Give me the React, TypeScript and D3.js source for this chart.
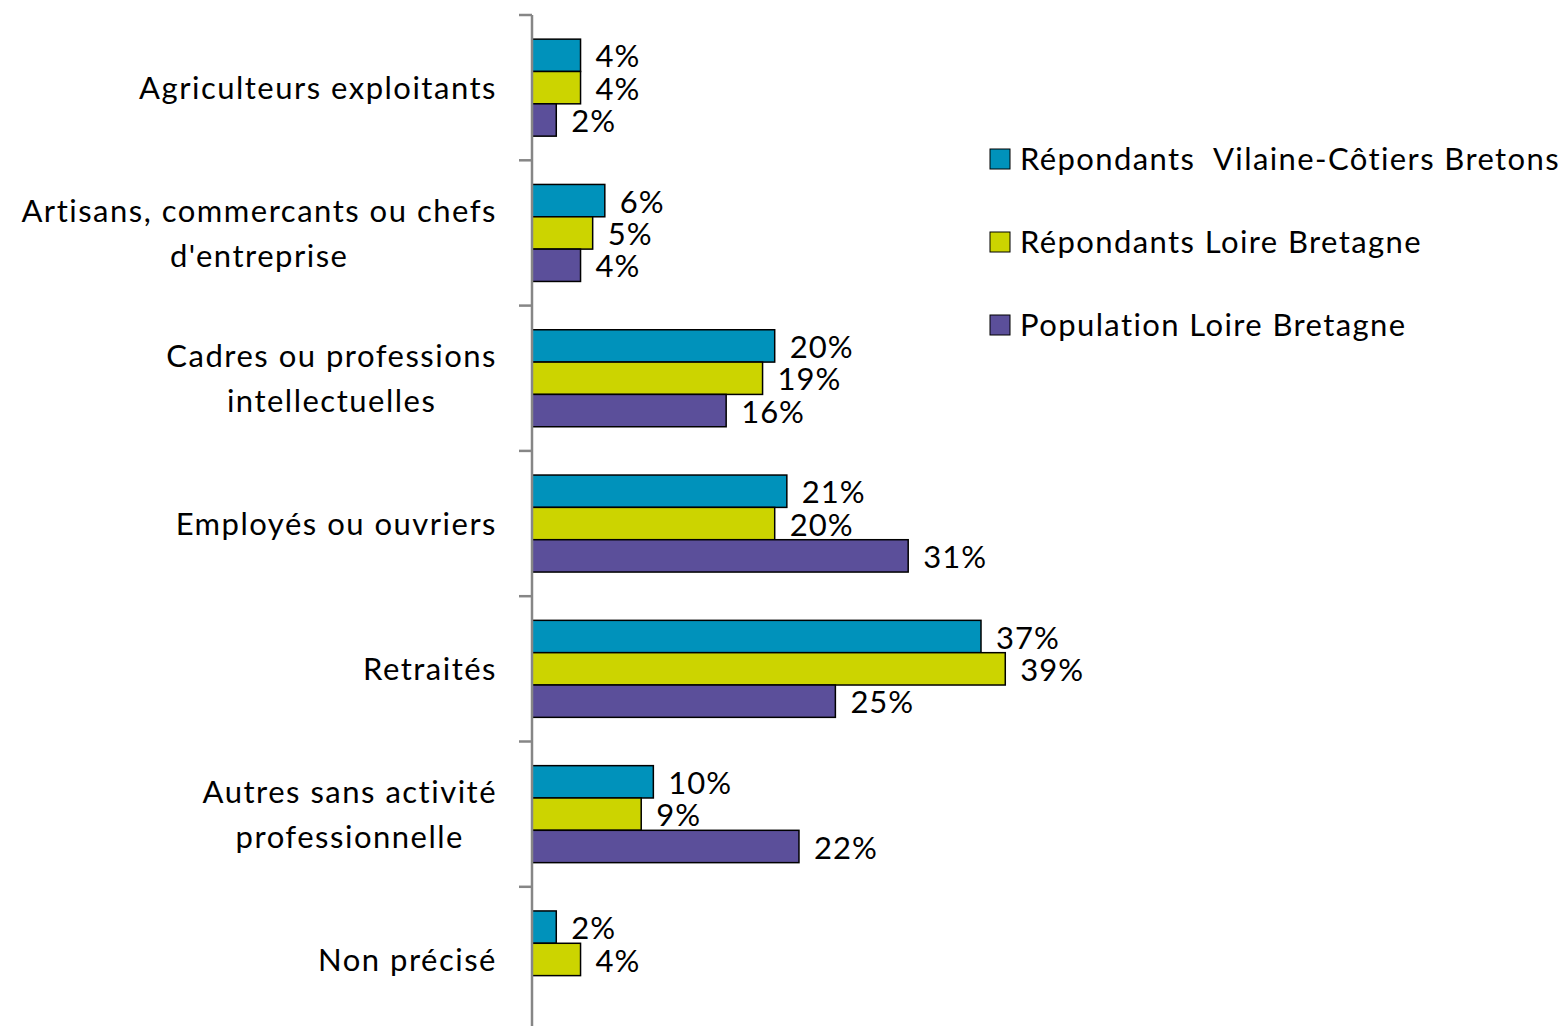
import { useRef, useEffect } from "react";
import * as d3 from "d3";

const categories = [
  ["Agriculteurs exploitants"],
  ["Artisans, commercants ou chefs", "d'entreprise"],
  ["Cadres ou professions", "intellectuelles"],
  ["Employés ou ouvriers"],
  ["Retraités"],
  ["Autres sans activité", "professionnelle"],
  ["Non précisé"],
];
const seriesNames = [
  "Répondants  Vilaine-Côtiers Bretons",
  "Répondants Loire Bretagne",
  "Population Loire Bretagne",
];
const seriesColors = ["#0092BB", "#CCD400", "#5B4F9A"];
const vilaine = [4, 6, 20, 21, 37, 10, 2];
const loire = [4, 5, 19, 20, 39, 9, 4];
const population = [2, 4, 16, 31, 25, 22, null];

const W = 1564;
const H = 1026;
const FONT = "Lato, 'Open Sans', sans-serif";

export default function App() {
  const svgRef = useRef<SVGSVGElement>(null);

  useEffect(() => {
    const svg = d3.select(svgRef.current);
    svg.selectAll("*").remove();

    const x0 = 532;
    const x = d3.scaleLinear().domain([0, 37]).range([x0, 981]);
    const y = d3
      .scaleBand<number>()
      .domain(d3.range(categories.length))
      .range([15, 15 + 145.3 * categories.length]);
    const inner = d3
      .scaleBand<number>()
      .domain([0, 1, 2])
      .range([y.bandwidth() / 2 - 48.5, y.bandwidth() / 2 + 48.5]);

    const values = [vilaine, loire, population];

    // bars + value labels
    values.forEach((vals, s) => {
      const g = svg.append("g");
      vals.forEach((v, i) => {
        if (v == null) return;
        const by = (y(i) as number) + (inner(s) as number);
        g.append("rect")
          .attr("x", x(0))
          .attr("y", by)
          .attr("width", x(v) - x(0))
          .attr("height", inner.bandwidth())
          .attr("fill", seriesColors[s])
          .attr("stroke", "#000")
          .attr("stroke-width", 1.5);
        g.append("text")
          .attr("x", x(v) + 15)
          .attr("y", by + inner.bandwidth() / 2 + 1)
          .attr("dy", "0.36em")
          .attr("font-family", FONT)
          .attr("font-size", 31)
          .attr("letter-spacing", 1)
          .attr("fill", "#000")
          .text(`${v}%`);
      });
    });

    // axis
    const axis = svg.append("g").attr("stroke", "#868686").attr("stroke-width", 2.5);
    axis.append("line").attr("x1", x0).attr("x2", x0).attr("y1", 15).attr("y2", H);
    d3.range(categories.length + 1).forEach((i) => {
      const ty = 15 + 145.3 * i;
      if (ty > H) return;
      axis.append("line").attr("x1", 519).attr("x2", x0).attr("y1", ty).attr("y2", ty);
    });

    // category labels
    categories.forEach((lines, i) => {
      const cy = (y(i) as number) + y.bandwidth() / 2;
      const g = svg.append("g");
      const lh = 45;
      const texts = lines.map((l, k) =>
        g
          .append("text")
          .attr("y", cy + (k - (lines.length - 1) / 2) * lh)
          .attr("dy", "0.36em")
          .attr("font-family", FONT)
          .attr("font-size", 31)
          .attr("letter-spacing", 1.5)
          .attr("text-anchor", "middle")
          .attr("fill", "#000")
          .text(l)
      );
      const maxW = d3.max(texts, (t) => (t.node() as SVGTextElement).getComputedTextLength()) || 0;
      texts.forEach((t) => t.attr("x", 497 - maxW / 2));
    });

    // legend
    const leg = svg.append("g");
    seriesNames.forEach((name, s) => {
      const ly = 159 + 83 * s;
      leg.append("rect")
        .attr("x", 990)
        .attr("y", ly - 10)
        .attr("width", 20)
        .attr("height", 20)
        .attr("fill", seriesColors[s])
        .attr("stroke", "#000")
        .attr("stroke-width", 1);
      leg.append("text")
        .attr("x", 1020)
        .attr("y", ly)
        .attr("dy", "0.36em")
        .attr("font-family", FONT)
        .attr("font-size", 31)
        .attr("letter-spacing", 1.4)
        .attr("fill", "#000")
        .style("white-space", "pre")
        .text(name);
    });
  }, []);

  return (
    <div style={{ position: "absolute", left: 0, top: 0 }}>
      <svg ref={svgRef} width={W} height={H} style={{ display: "block", background: "#fff" }} />
    </div>
  );
}
